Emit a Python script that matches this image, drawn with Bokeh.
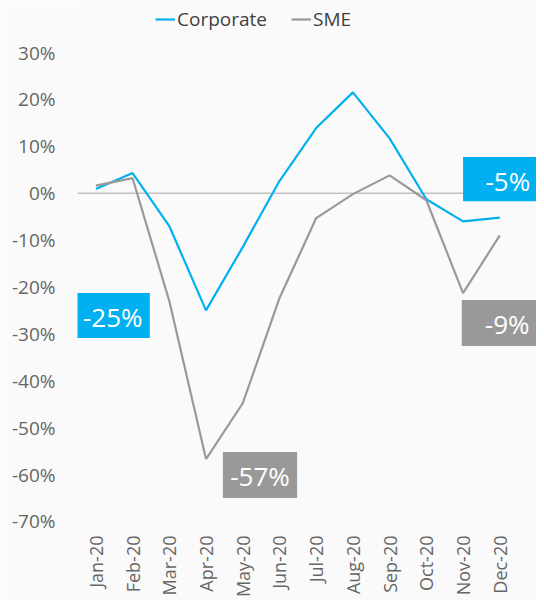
from bokeh.plotting import figure
from bokeh.models import (Range1d, FixedTicker, PrintfTickFormatter, Span, Legend,
                          LegendItem)
from bokeh.core.properties import value
from bokeh.embed import file_html
from bokeh.resources import INLINE
import math

months = ["Jan-20", "Feb-20", "Mar-20", "Apr-20", "May-20", "Jun-20",
          "Jul-20", "Aug-20", "Sep-20", "Oct-20", "Nov-20", "Dec-20"]
corporate = [0.9, 4.3, -7.0, -25.0, -11.5, 2.6, 13.9, 21.5, 11.7, -1.3, -6.0, -5.2]
sme = [1.6, 3.2, -23.0, -56.7, -44.8, -22.4, -5.3, -0.2, 3.8, -1.5, -21.3, -9.0]
y_ticks = [-70, -60, -50, -40, -30, -20, -10, 0, 10, 20, 30]

BLUE = "#00B0F0"
GREY = "#999999"
TXT = "#666666"
BG = "#FAFAFA"
FONT = "Open Sans"

xs = list(range(len(months)))

p = figure(width=536, height=600, output_backend="svg", toolbar_location=None,
           x_range=Range1d(-0.5, 12.0), y_range=Range1d(-71.3, 41.1),
           min_border_left=77, min_border_right=0, min_border_top=0,
           min_border_bottom=73)
p.background_fill_color = BG
p.border_fill_color = BG
p.outline_line_color = None
p.xgrid.visible = False
p.ygrid.visible = False

zero = Span(location=0, dimension="width", line_color="#A6A6A6", line_width=1,
            level="underlay")
p.add_layout(zero)

r_corp = p.line(xs, corporate, line_color=BLUE, line_width=2.2)
r_sme = p.line(xs, sme, line_color=GREY, line_width=2.2)

# value call-out boxes (anchored to data values)
callouts = [
    # (value, colour, box centre x, box centre y, width, height)
    (corporate[3], BLUE, 0.46, -26.1, 2.02, 9.6),
    (sme[3], GREY, 4.47, -60.1, 2.02, 9.8),
    (corporate[11], BLUE, 11.22, 3.0, 2.44, 9.4),
    (sme[11], GREY, 11.2, -27.7, 2.47, 9.8),
]
for v, col, cx, cy, w, h in callouts:
    p.quad(left=cx - w / 2, right=cx + w / 2, top=cy + h / 2, bottom=cy - h / 2,
           fill_color=col, line_color=None)
    p.text(x=[cx], y=[cy - 0.3], text=[f"{round(v):.0f}%"], text_color="white",
           text_font=value(FONT), text_font_size="26px", text_align="center",
           text_baseline="middle")

# axes
p.yaxis.ticker = FixedTicker(ticks=y_ticks)
p.yaxis.formatter = PrintfTickFormatter(format="%d%%")
p.yaxis.axis_line_color = None
p.yaxis.major_tick_line_color = None
p.yaxis.minor_tick_line_color = None
p.yaxis.major_tick_out = 0
p.yaxis.major_label_standoff = 22
p.yaxis.major_label_text_font = FONT
p.yaxis.major_label_text_font_size = "19px"
p.yaxis.major_label_text_color = TXT

p.xaxis.ticker = FixedTicker(ticks=xs)
p.xaxis.major_label_overrides = {i: m for i, m in enumerate(months)}
p.xaxis.major_label_orientation = math.pi / 2
p.xaxis.axis_line_color = None
p.xaxis.major_tick_line_color = None
p.xaxis.minor_tick_line_color = None
p.xaxis.major_tick_out = 0
p.xaxis.major_tick_in = 0
p.xaxis.major_label_standoff = 8
p.xaxis.major_label_text_font = FONT
p.xaxis.major_label_text_font_size = "18px"
p.xaxis.major_label_text_color = TXT

legend = Legend(items=[LegendItem(label="Corporate", renderers=[r_corp]),
                       LegendItem(label="SME", renderers=[r_sme])],
                orientation="horizontal", location=(78, 495),
                background_fill_alpha=0, border_line_color=None,
                padding=0, margin=0, spacing=24, glyph_width=20,
                glyph_height=24, label_height=24,
                label_standoff=2, label_text_font=FONT,
                label_text_font_size="19px", label_text_color="#404040")
p.add_layout(legend)

open("out.html", "w").write(file_html(p, INLINE))
